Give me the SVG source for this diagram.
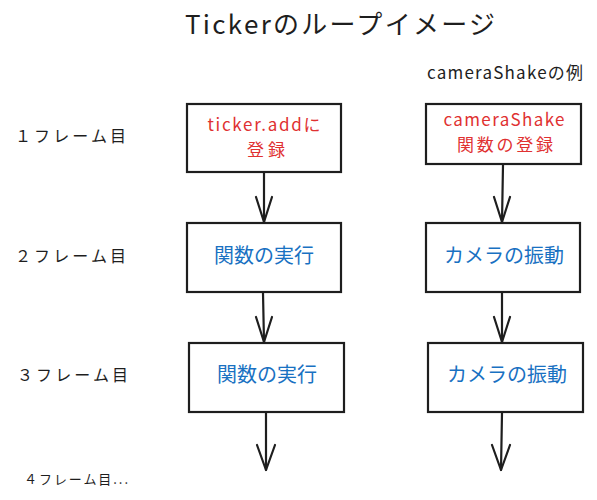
<svg xmlns="http://www.w3.org/2000/svg" width="597" height="500" viewBox="0 0 597 500">
<style>
  .t { font-family: "Noto Sans CJK JP", "Liberation Sans", sans-serif; }
  .title { font-size: 26px; fill: #1e1e1e; }
  .lab { font-size: 16px; fill: #1e1e1e; }
  .sub { font-size: 17px; fill: #1e1e1e; }
  .box { fill: #ffffff; stroke: #1e1e1e; stroke-width: 2.2; }
  .red { font-size: 17px; fill: #e03131; text-anchor: middle; }
  .blue { font-size: 20px; fill: #1971c2; text-anchor: middle; }
  .conn line, .conn path { stroke: #1e1e1e; stroke-width: 2.2; fill: none; stroke-linecap: round; stroke-linejoin: round; }
</style>
<rect width="597" height="500" fill="#ffffff"/>
<g id="title">
  <text class="t title" x="185" y="34" textLength="310" lengthAdjust="spacing">Tickerのループイメージ</text>
</g>
<g id="subtitle">
  <text class="t sub" x="427" y="79" textLength="156" lengthAdjust="spacing">cameraShakeの例</text>
</g>
<g id="frame-labels">
  <text id="frame1" class="t lab" x="15" y="142" textLength="111" lengthAdjust="spacing">１フレーム目</text>
  <text id="frame2" class="t lab" x="15" y="262" textLength="111" lengthAdjust="spacing">２フレーム目</text>
  <text id="frame3" class="t lab" x="17" y="381" textLength="111" lengthAdjust="spacing">３フレーム目</text>
  <text id="frame4" class="t lab" x="24" y="484" style="font-size:13px" textLength="104" lengthAdjust="spacing">４フレーム目...</text>
</g>
<g id="node-ticker-add">
  <rect class="box" x="187" y="104" width="154" height="68"/>
  <text class="t red" x="264" y="131" textLength="113" lengthAdjust="spacing">ticker.addに</text>
  <text class="t red" x="266" y="156" textLength="38" lengthAdjust="spacing">登録</text>
</g>
<g id="node-camera-register">
  <rect class="box" x="426" y="104" width="155" height="60"/>
  <text class="t red" x="504" y="126" textLength="121" lengthAdjust="spacing">cameraShake</text>
  <text class="t red" x="505" y="151" textLength="96" lengthAdjust="spacing">関数の登録</text>
</g>
<g id="node-exec-2">
  <rect class="box" x="187" y="223" width="154" height="69"/>
  <text class="t blue" x="264" y="263">関数の実行</text>
</g>
<g id="node-shake-2">
  <rect class="box" x="426" y="223" width="154" height="69"/>
  <text class="t blue" x="504" y="263">カメラの振動</text>
</g>
<g id="node-exec-3">
  <rect class="box" x="189" y="343" width="155" height="69"/>
  <text class="t blue" x="267" y="382">関数の実行</text>
</g>
<g id="node-shake-3">
  <rect class="box" x="428" y="343" width="155" height="69"/>
  <text class="t blue" x="507" y="382">カメラの振動</text>
</g>
<g id="connectors" class="conn">
  <line x1="264" y1="173" x2="264" y2="222"/>
  <path d="M256 197 L264 222 L272 197"/>
  <line x1="503" y1="165" x2="502" y2="222"/>
  <path d="M494 197 L502 222 L510 197"/>
  <line x1="263" y1="293" x2="264" y2="342"/>
  <path d="M256 317 L264 342 L272 317"/>
  <line x1="502" y1="293" x2="502" y2="342"/>
  <path d="M494 317 L502 342 L510 317"/>
  <line x1="266" y1="413" x2="266" y2="470"/>
  <path d="M257 445 L266 470 L275 445"/>
  <line x1="502" y1="413" x2="501" y2="470"/>
  <path d="M492 445 L501 470 L510 445"/>
</g>
</svg>
